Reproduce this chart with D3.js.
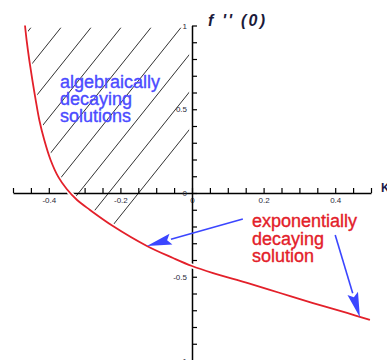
<!DOCTYPE html>
<html>
<head>
<meta charset="utf-8">
<script src="https://cdnjs.cloudflare.com/ajax/libs/d3/7.8.5/d3.min.js"></script>
<style>
body { margin: 0; background: #fff; }
svg { font-family: "Liberation Sans", Arial, sans-serif; }
.axis path, .axis line { stroke: #000; }
.axis path { stroke-width: 1.5; }
.axis line { stroke-width: 1.2; }
.axis text { font-size: 8px; fill: #2a2a3a; font-family: "Liberation Sans", Arial, sans-serif; }
.note { font-size: 18px; }
</style>
</head>
<body>
<svg width="387" height="360"></svg>
<script>
// curve: lambda vs f''(0)
var lambda = [-0.4665, -0.462, -0.4545, -0.446, -0.4366, -0.4265, -0.4126, -0.395, -0.3735, -0.350, -0.321, -0.285, -0.221, -0.126, -0.053, 0, 0.059, 0.154, 0.246, 0.338, 0.433, 0.497];
var fpp    = [1.0, 0.913, 0.794, 0.675, 0.555, 0.436, 0.316, 0.197, 0.096, 0.024, -0.042, -0.101, -0.197, -0.316, -0.388, -0.436, -0.478, -0.537, -0.597, -0.657, -0.716, -0.758];

var xLabels = [-0.4, -0.2, 0, 0.2, 0.4];
var yLabels = [-1, -0.5, 0, 0.5, 1];

// arrows: [from, to] in data units
var arrows = [
  [[0.142, -0.155], [-0.126, -0.316]],
  [[0.40, -0.251], [0.469, -0.742]]
];

var blueText = ["algebraically", "decaying", "solutions"];
var redText = ["exponentially", "decaying", "solution"];

var svg = d3.select("svg");

var x = d3.scaleLinear().domain([-0.5, 0.5]).range([13, 371]);
var y = d3.scaleLinear().domain([-1, 1]).range([360.5, 25.5]);

var pts = lambda.map(function(d, i) { return [d, fpp[i]]; });

var line = d3.line()
  .x(function(d) { return x(d[0]); })
  .y(function(d) { return y(d[1]); })
  .curve(d3.curveCatmullRom);

// hatched region: left of the curve up to y axis, below f''=1
var leftPts = pts.filter(function(d) { return d[0] <= 0; });
var regionPath = line(leftPts) + "L" + x(-0.008) + "," + y(-0.44) +
  "L" + x(-0.008) + "," + y(0.988) + "L" + x(leftPts[0][0]) + "," + y(0.988) + "Z";
svg.append("defs").append("clipPath").attr("id", "region")
  .append("path").attr("d", regionPath);

// diagonal hatch lines, clipped to the region
var hatchTop = y(0.988), slope = 1.25;
var hatch = svg.append("g").attr("clip-path", "url(#region)");
hatch.selectAll("line")
  .data(d3.range(-3, 8))
  .enter().append("line")
  .attr("x1", function(k) { return 61 + k * 30; })
  .attr("y1", hatchTop)
  .attr("x2", function(k) { return 61 + k * 30 - 260 / slope; })
  .attr("y2", hatchTop + 260)
  .attr("stroke", "#1a1a1a")
  .attr("stroke-width", 0.9);

// axes
var xAxis = d3.axisBottom(x)
  .tickValues(d3.range(-10, 11).map(function(i) { return i * 0.05; }))
  .tickSizeInner(-5)
  .tickSizeOuter(0)
  .tickPadding(4)
  .tickFormat(function(d) {
    var r = Math.round(d * 10) / 10;
    return xLabels.some(function(v) { return Math.abs(v - d) < 1e-6; }) ? String(r) : "";
  });
svg.append("g")
  .attr("class", "axis")
  .attr("transform", "translate(0," + y(0) + ")")
  .call(xAxis);

var yAxis = d3.axisLeft(y)
  .tickValues(d3.range(-10, 11).map(function(i) { return i * 0.1; }))
  .tickSizeInner(-5)
  .tickSizeOuter(0)
  .tickPadding(5)
  .tickFormat(function(d) {
    var r = Math.round(d * 10) / 10;
    return yLabels.some(function(v) { return Math.abs(v - d) < 1e-6; }) ? String(r) : "";
  });
svg.append("g")
  .attr("class", "axis")
  .attr("transform", "translate(" + x(0) + ",0)")
  .call(yAxis);

// curve (white halo leaves a gap to the hatching)
svg.append("path")
  .attr("d", line(pts))
  .attr("fill", "none")
  .attr("stroke", "#fff")
  .attr("stroke-width", 5);
svg.append("path")
  .attr("d", line(pts))
  .attr("fill", "none")
  .attr("stroke", "#e3202a")
  .attr("stroke-width", 1.8);

// axis titles
svg.append("text")
  .attr("x", 208).attr("y", 26)
  .attr("font-size", 16)
  .attr("font-style", "italic")
  .attr("font-weight", "bold")
  .attr("fill", "#1b1b3a")
  .attr("textLength", 57)
  .attr("lengthAdjust", "spacing")
  .text("f '' (0)");
svg.append("text")
  .attr("x", 381).attr("y", 192)
  .attr("font-size", 12)
  .attr("font-weight", "bold")
  .attr("fill", "#1b1b4a")
  .text("K");

// annotations
svg.append("g").selectAll("text")
  .data(blueText).enter().append("text")
  .attr("class", "note")
  .attr("x", 60)
  .attr("y", function(d, i) { return 88 + i * 17; })
  .attr("fill", "#4b4bff")
  .attr("stroke", "#4b4bff").attr("stroke-width", 0.35)
  .text(function(d) { return d; });

svg.append("g").selectAll("text")
  .data(redText).enter().append("text")
  .attr("class", "note")
  .attr("x", 252)
  .attr("y", function(d, i) { return 227 + i * 17.5; })
  .attr("fill", "#e3202a")
  .attr("stroke", "#e3202a").attr("stroke-width", 0.35)
  .text(function(d) { return d; });

// arrows
var ag = svg.append("g");
arrows.forEach(function(a) {
  var x0 = x(a[0][0]), y0 = y(a[0][1]), x1 = x(a[1][0]), y1 = y(a[1][1]);
  var dx = x1 - x0, dy = y1 - y0, L = Math.sqrt(dx * dx + dy * dy);
  var ux = dx / L, uy = dy / L, hl = 25, hw = 5.5;
  var bx = x1 - ux * hl, by = y1 - uy * hl;
  ag.append("line")
    .attr("x1", x0).attr("y1", y0).attr("x2", bx).attr("y2", by)
    .attr("stroke", "#3b46ff").attr("stroke-width", 1.6);
  ag.append("path")
    .attr("d", "M" + x1 + "," + y1 +
      "L" + (bx - uy * hw) + "," + (by + ux * hw) +
      "L" + (bx + ux * 4) + "," + (by + uy * 4) +
      "L" + (bx + uy * hw) + "," + (by - ux * hw) + "Z")
    .attr("fill", "#3b46ff");
});
</script>
</body>
</html>
